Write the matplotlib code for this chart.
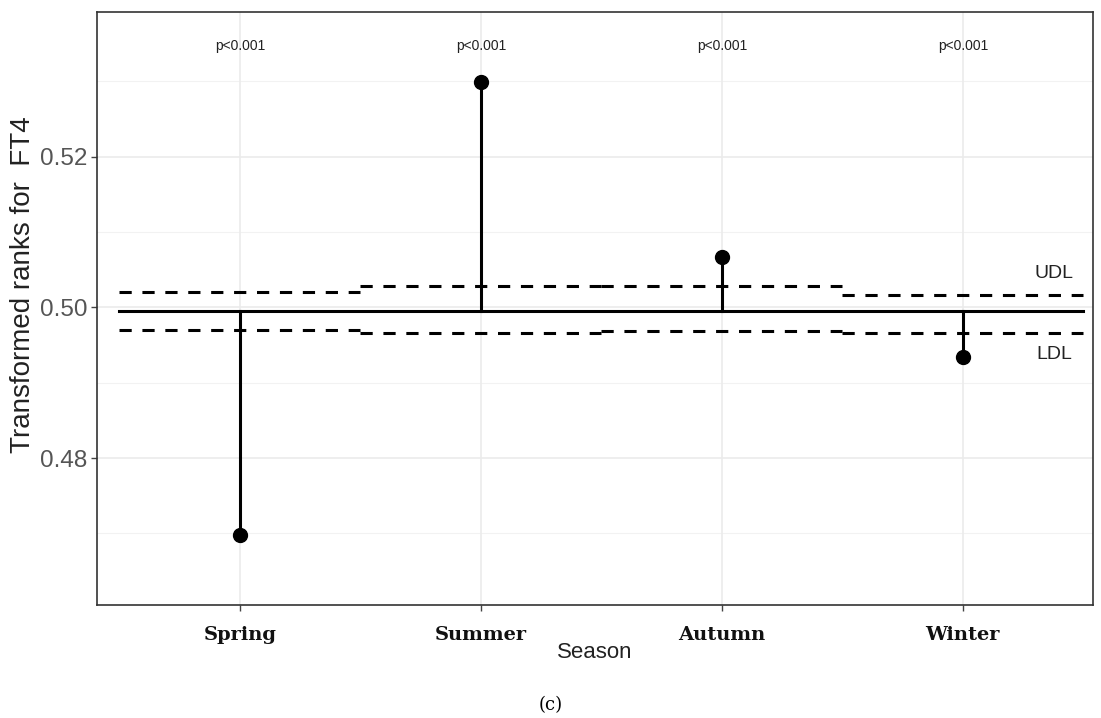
import matplotlib
matplotlib.use("Agg")
import matplotlib.pyplot as plt
import numpy as np

seasons = ["Spring", "Summer", "Autumn", "Winter"]
means = [0.46985, 0.52992, 0.50672, 0.49344]
center = 0.4995
udl = [0.50207, 0.50279, 0.50279, 0.50170]
ldl = [0.49699, 0.49665, 0.49680, 0.49665]
pvals = ["p<0.001", "p<0.001", "p<0.001", "p<0.001"]
yticks = [0.48, 0.50, 0.52]

fig = plt.figure(figsize=(11.01, 7.18), dpi=100)
ax = fig.add_axes([0.0881, 0.1574, 0.9046, 0.8259])

x = np.arange(1, len(seasons) + 1)

# grid
for yv in [0.47, 0.49, 0.51, 0.53]:
    ax.axhline(yv, color="#F2F2F2", lw=0.8, zorder=0)
for yv in yticks:
    ax.axhline(yv, color="#EBEBEB", lw=1.2, zorder=0)
for xv in x:
    ax.axvline(xv, color="#EBEBEB", lw=1.2, zorder=0)

# centre line
ax.plot([0.5, 4.5], [center, center], color="black", lw=2.2, zorder=3)

# decision limits
for i, xi in enumerate(x):
    ax.plot([xi - 0.5, xi + 0.5], [udl[i], udl[i]], color="black", lw=2.2,
            dashes=(4, 3.5), zorder=3)
    ax.plot([xi - 0.5, xi + 0.5], [ldl[i], ldl[i]], color="black", lw=2.2,
            dashes=(4, 3.5), zorder=3)

# stems and points
for i, xi in enumerate(x):
    ax.plot([xi, xi], [center, means[i]], color="black", lw=2.2, zorder=4)
ax.plot(x, means, "o", color="black", markersize=10, zorder=5)

# p-values
for i, xi in enumerate(x):
    ax.text(xi, 0.5347, pvals[i], ha="center", va="center", fontsize=10,
            family="Liberation Sans", color="#222222")

ax.text(4.38, 0.5045, "UDL", ha="center", va="center", fontsize=14,
        family="Liberation Sans", color="#222222")
ax.text(4.38, 0.4938, "LDL", ha="center", va="center", fontsize=14,
        family="Liberation Sans", color="#222222")

ax.set_xlim(0.407, 4.54)
ax.set_ylim(0.4605, 0.5392)
ax.set_xticks(x)
ax.set_xticklabels(seasons, fontsize=14, family="DejaVu Serif",
                   fontweight="bold", color="#111111")
ax.set_yticks(yticks)
ax.set_yticklabels([f"{v:.2f}" for v in yticks], fontsize=17.5,
                   family="Liberation Sans", color="#555555")
ax.tick_params(axis="both", length=4, width=1, color="#444444")
ax.tick_params(axis="x", pad=11)
ax.tick_params(axis="y", pad=3)
for s in ax.spines.values():
    s.set_color("#333333")
    s.set_linewidth(1.2)

ax.set_xlabel("Season", fontsize=16, family="Liberation Sans",
              color="#222222", labelpad=-1)
ax.set_ylabel("Transformed ranks for  FT4", fontsize=20,
              family="Liberation Sans", color="#222222")
ax.yaxis.set_label_coords(-0.061, 0.541)

fig.text(0.5005, 1 - 705 / 718, "(c)", ha="center", va="center",
         fontsize=13, family="DejaVu Serif")

fig.savefig("out.png", dpi=100)
